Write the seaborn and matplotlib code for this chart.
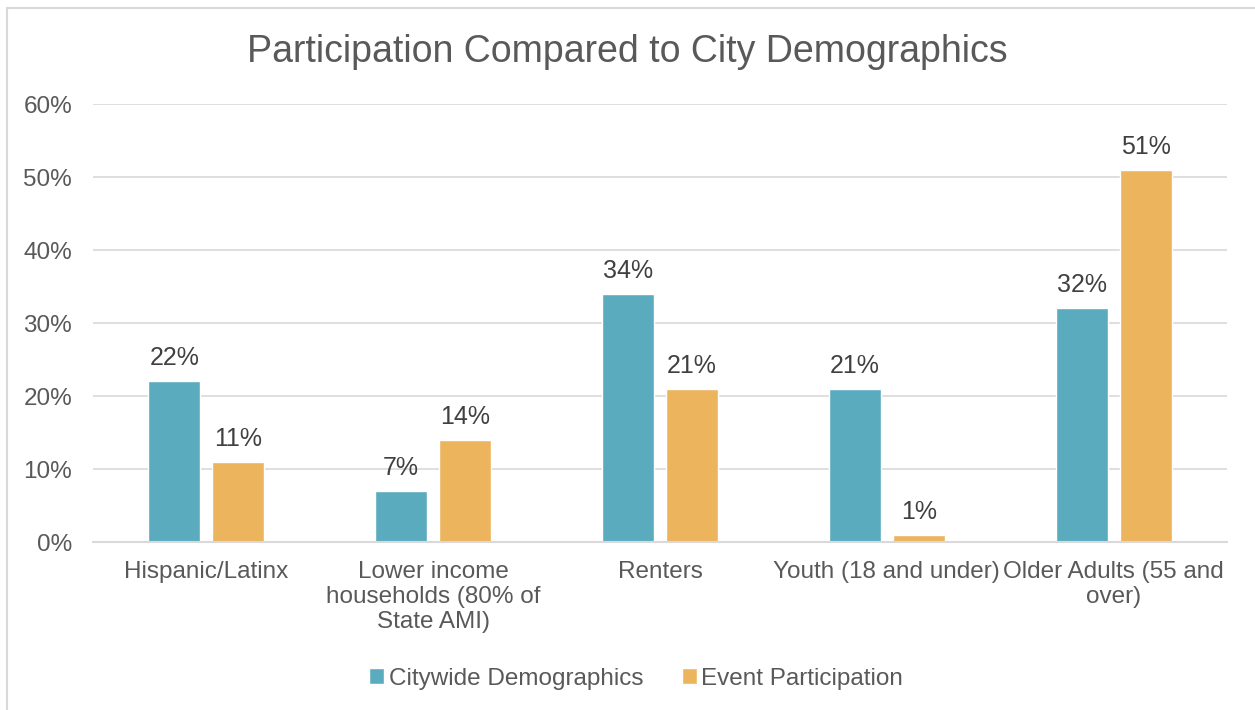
import matplotlib
matplotlib.use("Agg")
import matplotlib.pyplot as plt
import matplotlib.ticker as ticker
from matplotlib.patches import Rectangle
import pandas as pd
import seaborn as sns

categories = ["Hispanic/Latinx",
              "Lower income\nhouseholds (80% of\nState AMI)",
              "Renters",
              "Youth (18 and under)",
              "Older Adults (55 and\nover)"]
citywide = [0.22, 0.07, 0.34, 0.21, 0.32]
event = [0.11, 0.14, 0.21, 0.01, 0.51]
series_names = ["Citywide Demographics", "Event Participation"]
colors = ["#5BABBF", "#EDB45E"]
yticks = [0, 0.1, 0.2, 0.3, 0.4, 0.5, 0.6]

text_color = "#595959"

sns.set_theme(style="white")
plt.rcParams['font.family'] = ['Liberation Sans', 'DejaVu Sans']

df = pd.DataFrame({
    "category": categories * 2,
    "value": citywide + event,
    "series": [series_names[0]] * len(categories) + [series_names[1]] * len(categories),
})

fig = plt.figure(figsize=(12.55, 7.10), dpi=100)
ax = fig.add_axes([0.0741, 0.2366, 0.9036, 0.6169])

sns.barplot(data=df, x="category", y="value", hue="series", palette=colors,
            width=0.564, gap=0.1875, ax=ax, saturation=1, legend=True)

for container in ax.containers:
    ax.bar_label(container, labels=[f"{v*100:.0f}%" for v in container.datavalues],
                 padding=8, fontsize=18, color="#404040")

ax.set_ylim(0, 0.6)
ax.set_xlim(-0.5, 4.5)
ax.set_yticks(yticks)
ax.yaxis.set_major_formatter(ticker.FuncFormatter(lambda v, p: f"{v*100:.0f}%"))
ax.grid(axis="y", color="#D9D9D9", linewidth=1.2)
ax.set_axisbelow(True)
for s in ["top", "right", "left"]:
    ax.spines[s].set_visible(False)
ax.spines["bottom"].set_color("#D9D9D9")
ax.spines["bottom"].set_linewidth(1.5)
ax.tick_params(axis="both", length=0, labelsize=17.5, labelcolor=text_color)
ax.tick_params(axis="y", pad=15)
ax.tick_params(axis="x", pad=14)
for lbl in ax.get_xticklabels():
    lbl.set_linespacing(1.16)
ax.set_xlabel("")
ax.set_ylabel("")

ax.legend(loc="center", bbox_to_anchor=(0.507, 0.044), bbox_transform=fig.transFigure,
          ncol=2, frameon=False, fontsize=17.5, labelcolor=text_color,
          handlelength=0.6, handleheight=0.6, handletextpad=0.2, columnspacing=1.6)

fig.text(0.5, 0.927, "Participation Compared to City Demographics", ha="center", va="center",
         fontsize=27, color=text_color)

fig.patches.append(Rectangle((7 / 1255, -0.1), 1.2, 1 - 8 / 710 + 0.1, transform=fig.transFigure,
                             fill=False, edgecolor="#D9D9D9", linewidth=1.5))

fig.savefig("out.png", dpi=100)
